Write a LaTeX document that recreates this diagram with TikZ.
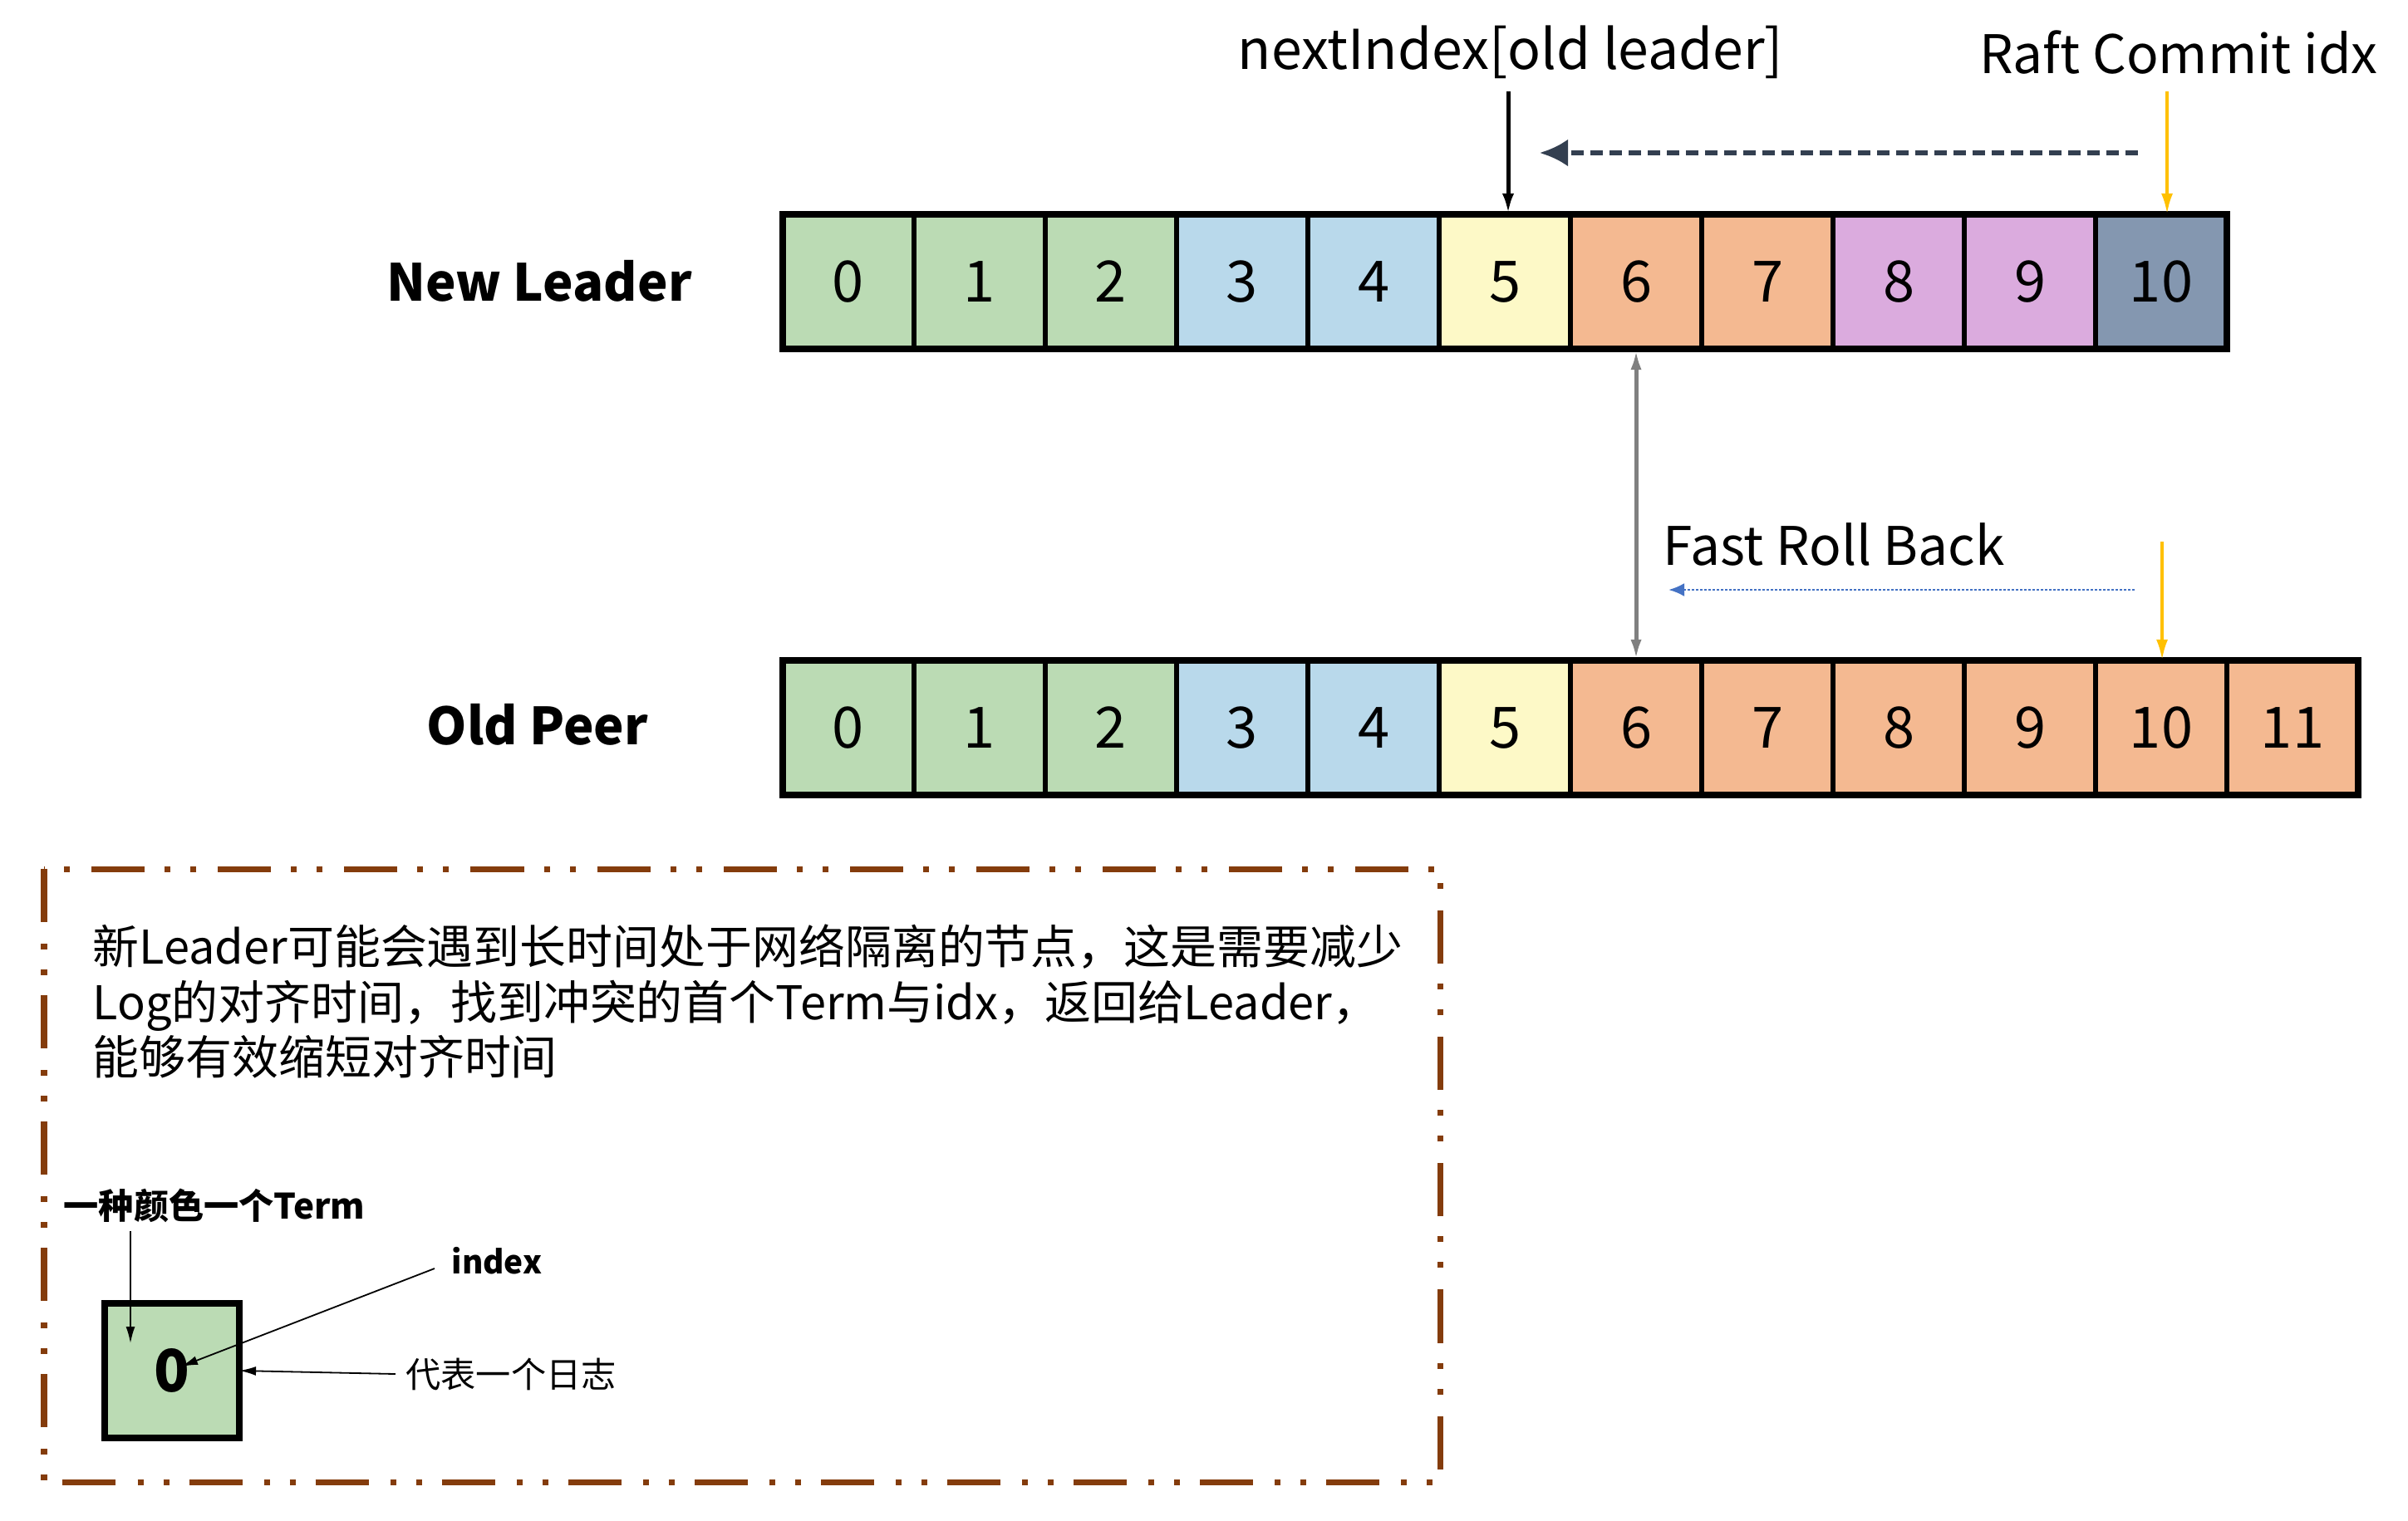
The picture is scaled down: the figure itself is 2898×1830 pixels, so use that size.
\documentclass[tikz,border=0pt]{standalone}
\usepackage{fontspec}
\setmainfont{Noto Sans CJK SC}
\usetikzlibrary{arrows.meta}
\definecolor{cgreen}{RGB}{187,219,180}
\definecolor{cblue}{RGB}{185,217,235}
\definecolor{cyellow}{RGB}{253,249,199}
\definecolor{corange}{RGB}{244,185,145}
\definecolor{cpurple}{RGB}{219,171,222}
\definecolor{cslate}{RGB}{132,151,176}
\definecolor{arrowyellow}{RGB}{255,192,0}
\definecolor{darkslate}{RGB}{51,63,80}
\definecolor{bluedot}{RGB}{68,114,196}
\definecolor{boxbrown}{RGB}{132,60,12}
\begin{document}
\begin{tikzpicture}[x=0.01cm,y=-0.01cm,
  cell/.style={draw,line width=0.055cm,minimum width=1.58cm,minimum height=1.62cm,inner sep=0pt,outer sep=0pt,font=\fontsize{19.5}{20}\selectfont},
  rowlabel/.style={font=\bfseries\fontsize{17.5}{20}\selectfont},
  toplabel/.style={font=\fontsize{18.2}{21}\selectfont},
  blkarrow/.style={line width=0.05cm,-{Latex[length=0.25cm,width=0.14cm]}},
  yelarrow/.style={arrowyellow,line width=0.04cm,-{Latex[length=0.25cm,width=0.14cm]}},
  thinarrow/.style={line width=0.018cm,-{Latex[length=0.2cm,width=0.11cm]}},
  desc/.style={font=\fontsize{15.9}{18}\selectfont,anchor=base west,inner sep=0pt}
]
\useasboundingbox (0,0) rectangle (2898,1830);

% New Leader row
\foreach \i/\c in {0/cgreen,1/cgreen,2/cgreen,3/cblue,4/cblue,5/cyellow,6/corange,7/corange,8/cpurple,9/cpurple,10/cslate}
  \node[cell,fill=\c] (nl\i) at ({942+158*\i+79},339) {\i};
\draw[line width=0.075cm] (nl0.north west) rectangle (nl10.south east);

% Old Peer row
\foreach \i/\c in {0/cgreen,1/cgreen,2/cgreen,3/cblue,4/cblue,5/cyellow,6/corange,7/corange,8/corange,9/corange,10/corange,11/corange}
  \node[cell,fill=\c] (op\i) at ({942+158*\i+79},876) {\i};
\draw[line width=0.075cm] (op0.north west) rectangle (op11.south east);

% Row labels
\node[rowlabel] (lbnl) at (649,338) {New Leader};
\node[rowlabel] (lbop) at (647,872) {Old Peer};

% Top labels
\node[font=\fontsize{18.8}{21}\selectfont] (lbni) at (1818,63) {nextIndex[old leader]};
\node[toplabel] (lbrc) at (2622,63) {Raft Commit idx};
\node[toplabel] (lbfr) at (2207,655) {Fast Roll Back};

% arrows
\coordinate (a1) at (1815,110);
\draw[blkarrow] (a1) -- (a1 |- nl5.north);
\coordinate (y1) at (2608,110);
\draw[yelarrow] (y1) -- (y1 |- nl10.north);
\coordinate (d1) at (2573,184);
\coordinate (d2) at (1853,184);
\draw[darkslate,line width=0.055cm,dash pattern=on 0.15cm off 0.08cm,-{Latex[length=0.34cm,width=0.33cm]}] (d1) -- (d2);
\draw[gray,line width=0.05cm,{Latex[length=0.25cm,width=0.13cm]}-{Latex[length=0.25cm,width=0.13cm]}] (nl6.south) -- (op6.north);
\coordinate (b1) at (2569,710);
\coordinate (b2) at (2008,710);
\draw[bluedot,line width=0.028cm,dash pattern=on 0.03cm off 0.02cm,-{Latex[length=0.19cm,width=0.16cm]}] (b1) -- (b2);
\coordinate (y2) at (2602,652);
\draw[yelarrow] (y2) -- (y2 |- op10.north);

% description box
\draw[boxbrown,line width=0.07cm,dash pattern=on 0.64cm off 0.26cm on 0.07cm off 0.24cm on 0.07cm off 0.24cm] (53,1046) rectangle (1733,1784);
\node[desc] (t1) at (111,1160) {新Leader可能会遇到长时间处于网络隔离的节点，这是需要减少};
\node[desc] (t2) at (111,1227) {Log的对齐时间，找到冲突的首个Term与idx，返回给Leader，};
\node[desc] (t3) at (111,1293) {能够有效缩短对齐时间};

% legend
\node[draw,line width=0.08cm,fill=cgreen,minimum width=1.62cm,minimum height=1.61cm,inner sep=0pt,outer sep=0pt,font=\bfseries\fontsize{20}{20}\selectfont] (lg) at (207,1650) {0};
\node[font=\bfseries\fontsize{12}{14}\selectfont] (lgt) at (258,1451) {一种颜色一个Term};
\node[font=\bfseries\fontsize{11}{13}\selectfont] (lgi) at (598,1518) {index};
\node[font=\fontsize{12}{14}\selectfont] (lgd) at (615,1654) {代表一个日志};
\coordinate (c1) at (157,1482);
\coordinate (c2) at (157,1617);
\draw[thinarrow] (c1) -- (c2);
\coordinate (c3) at (523,1527);
\coordinate (c4) at (218,1645);
\draw[thinarrow] (c3) -- (c4);
\draw[thinarrow] (lgd.west) -- (lg.east);
\end{tikzpicture}
\end{document}
